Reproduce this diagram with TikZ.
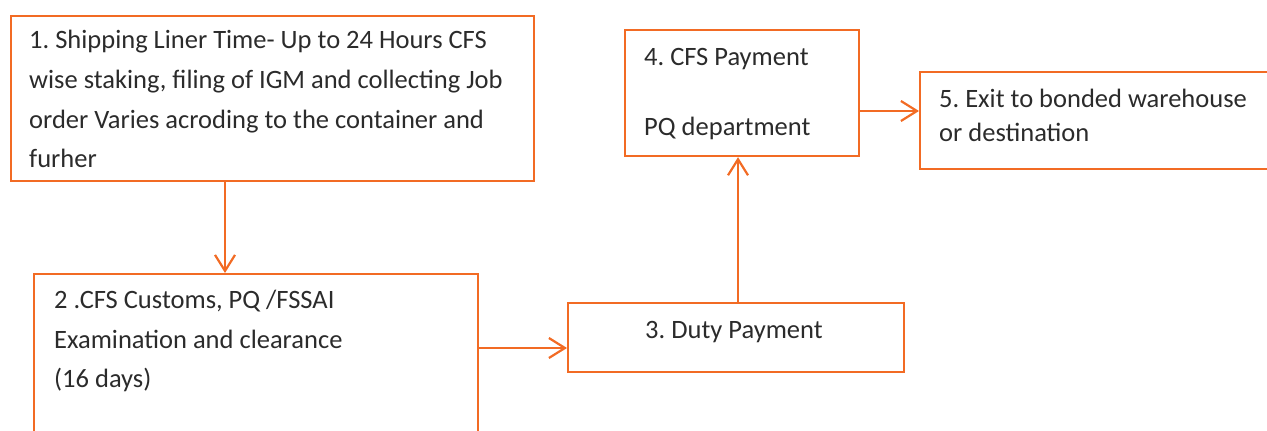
\documentclass[tikz,border=0pt]{standalone}
\usepackage{fontspec}
\setmainfont{Carlito}
\usetikzlibrary{arrows.meta}
\definecolor{flowline}{HTML}{F26B24}
\definecolor{flowtext}{HTML}{2B2B2B}
\frenchspacing
\begin{document}
\begin{tikzpicture}[x=1pt,y=-1pt,
  stepbox/.style={draw=flowline, line width=2.2pt, rectangle, inner sep=0pt, anchor=north west},
  steptext/.style={anchor=base west, inner sep=0pt, text=flowtext, font=\fontsize{26.5}{30}\selectfont},
  flow/.style={draw=flowline, line width=2.2pt, -{Straight Barb[length=16pt,width=20pt,line width=2.2pt]}}]
\useasboundingbox (0,0) rectangle (1267,431);
\clip (0,0) rectangle (1267,431);

% boxes (box 2 runs off the bottom, box 5 off the right)
\node[stepbox, minimum width=523pt, minimum height=165pt] (b1) at (10,15) {};
\node[stepbox, minimum width=444pt, minimum height=200pt] (b2) at (33,273) {};
\node[stepbox, minimum width=336pt, minimum height=69pt]  (b3) at (567,302) {};
\node[stepbox, minimum width=234pt, minimum height=126pt] (b4) at (624,29) {};
\node[stepbox, minimum width=400pt, minimum height=97pt]  (b5) at (919,71) {};

% texts
\node[steptext] (t1a) at (29,48)  {1. Shipping Liner Time- Up to 24 Hours CFS};
\node[steptext] (t1b) at (29,88)  {wise staking, filing of IGM and collecting Job};
\node[steptext] (t1c) at (29,128) {order Varies acroding to the container and};
\node[steptext] (t1d) at (29,167) {furher};

\node[steptext] (t2a) at (54,308) {2 .CFS Customs, PQ /FSSAI};
\node[steptext] (t2b) at (54,348) {Examination and clearance};
\node[steptext] (t2c) at (54,387) {(16 days)};

\node[steptext] (t3) at (645,338) {3. Duty Payment};

\node[steptext] (t4a) at (644,65)  {4. CFS Payment};
\node[steptext] (t4b) at (644,135) {PQ department};

\node[steptext] (t5a) at (939,107) {5. Exit to bonded warehouse};
\node[steptext] (t5b) at (939,141) {or destination};

% connector guide positions
\coordinate (c12) at (225,0);
\coordinate (c23) at (0,348);
\coordinate (c34) at (738,0);
\coordinate (c45) at (0,111);

\draw[flow] (c12 |- b1.south) -- (c12 |- b2.north);
\draw[flow] (b2.east |- c23) -- (b3.west |- c23);
\draw[flow] (c34 |- b3.north) -- (c34 |- b4.south);
\draw[flow] (b4.east |- c45) -- (b5.west |- c45);
\end{tikzpicture}
\end{document}
